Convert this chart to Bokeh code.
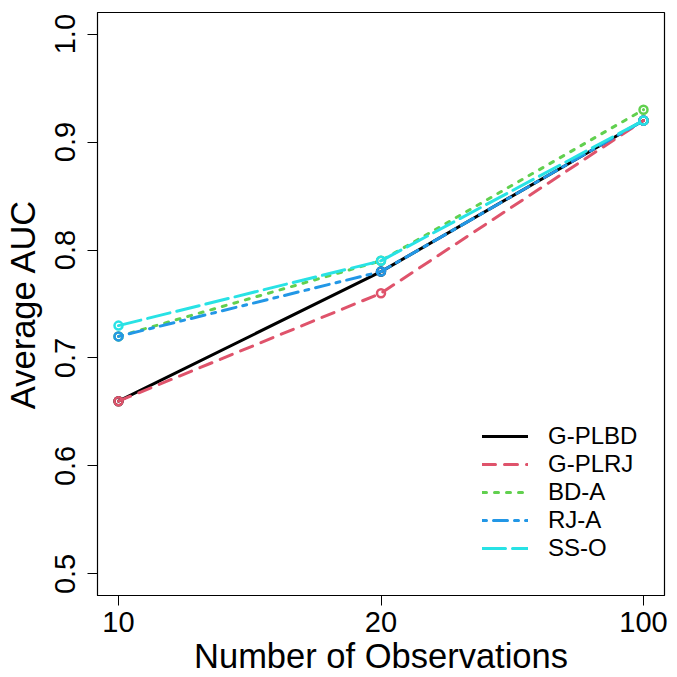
from bokeh.plotting import figure
from bokeh.models import FixedTicker, Legend, LegendItem, Range1d
from bokeh.embed import file_html
from bokeh.resources import INLINE

x_pos = [1, 2, 3]
x_labels = ["10", "20", "100"]
series_names = ["G-PLBD", "G-PLRJ", "BD-A", "RJ-A", "SS-O"]
g_plbd = [0.66, 0.78, 0.92]
g_plrj = [0.66, 0.76, 0.92]
bd_a = [0.72, 0.79, 0.93]
rj_a = [0.72, 0.78, 0.92]
ss_o = [0.73, 0.79, 0.92]
y_ticks = [0.5, 0.6, 0.7, 0.8, 0.9, 1.0]
x_title = "Number of Observations"
y_title = "Average AUC"

colors = ["#000000", "#DF536B", "#61D04F", "#2297E6", "#28E2E5"]
dashes = ["solid", "13 9", "4 8", "4 7 14 7", "23 7"]
values = [g_plbd, g_plrj, bd_a, rj_a, ss_o]

X0, X1 = 0.92, 3.08
Y0, Y1 = 0.48, 1.02
W, H = 672, 677
L, R, T, B = 97, 664, 12, 597

p = figure(width=W, height=H, output_backend="svg", toolbar_location=None,
           x_range=Range1d(X0, X1), y_range=Range1d(Y0, Y1),
           min_border_left=L, min_border_right=W - R, min_border_top=T,
           min_border_bottom=H - B)
p.grid.visible = False
p.outline_line_color = "black"
p.outline_line_width = 1.2
p.background_fill_color = "white"
p.border_fill_color = "white"

FONT = "Liberation Sans"
for ax in (p.xaxis[0], p.yaxis[0]):
    ax.axis_line_color = "black"
    ax.major_tick_line_color = "black"
    ax.major_tick_out = 10
    ax.major_tick_in = 0
    ax.minor_tick_line_color = None
    ax.major_label_text_font = FONT
    ax.major_label_text_font_size = "29px"
    ax.major_label_text_color = "black"
    ax.axis_label_text_font = FONT
    ax.axis_label_text_font_size = "34.5px"
    ax.axis_label_text_font_style = "normal"
    ax.axis_label_text_color = "black"

p.xaxis.ticker = FixedTicker(ticks=x_pos)
p.xaxis.major_label_overrides = {x: l for x, l in zip(x_pos, x_labels)}
p.xaxis.major_label_standoff = 6
p.xaxis.axis_label = x_title
p.xaxis.axis_label_standoff = 2

p.yaxis.ticker = FixedTicker(ticks=y_ticks)
p.yaxis.major_label_overrides = {t: f"{t:.1f}" for t in y_ticks}
p.yaxis.major_label_orientation = "parallel"
p.yaxis.major_label_standoff = 12
p.yaxis.axis_label = y_title
p.yaxis.axis_label_standoff = 11

items = []
for name, vals, c, d in zip(series_names, values, colors, dashes):
    r = p.line(x_pos, vals, line_color=c, line_width=3, line_dash=d, line_cap="round")
    p.scatter(x_pos, vals, marker="circle", size=8, fill_alpha=0, line_color=c, line_width=2.5)
    items.append(LegendItem(label=name, renderers=[r]))

legend = Legend(items=items, location=(385, 33), border_line_color=None,
                background_fill_alpha=0, padding=0, margin=0, spacing=-2,
                glyph_width=46, glyph_height=20, label_height=20, label_standoff=20,
                label_text_font=FONT, label_text_font_size="24px", label_text_color="black")
p.add_layout(legend)

open("out.html", "w").write(file_html(p, INLINE))
